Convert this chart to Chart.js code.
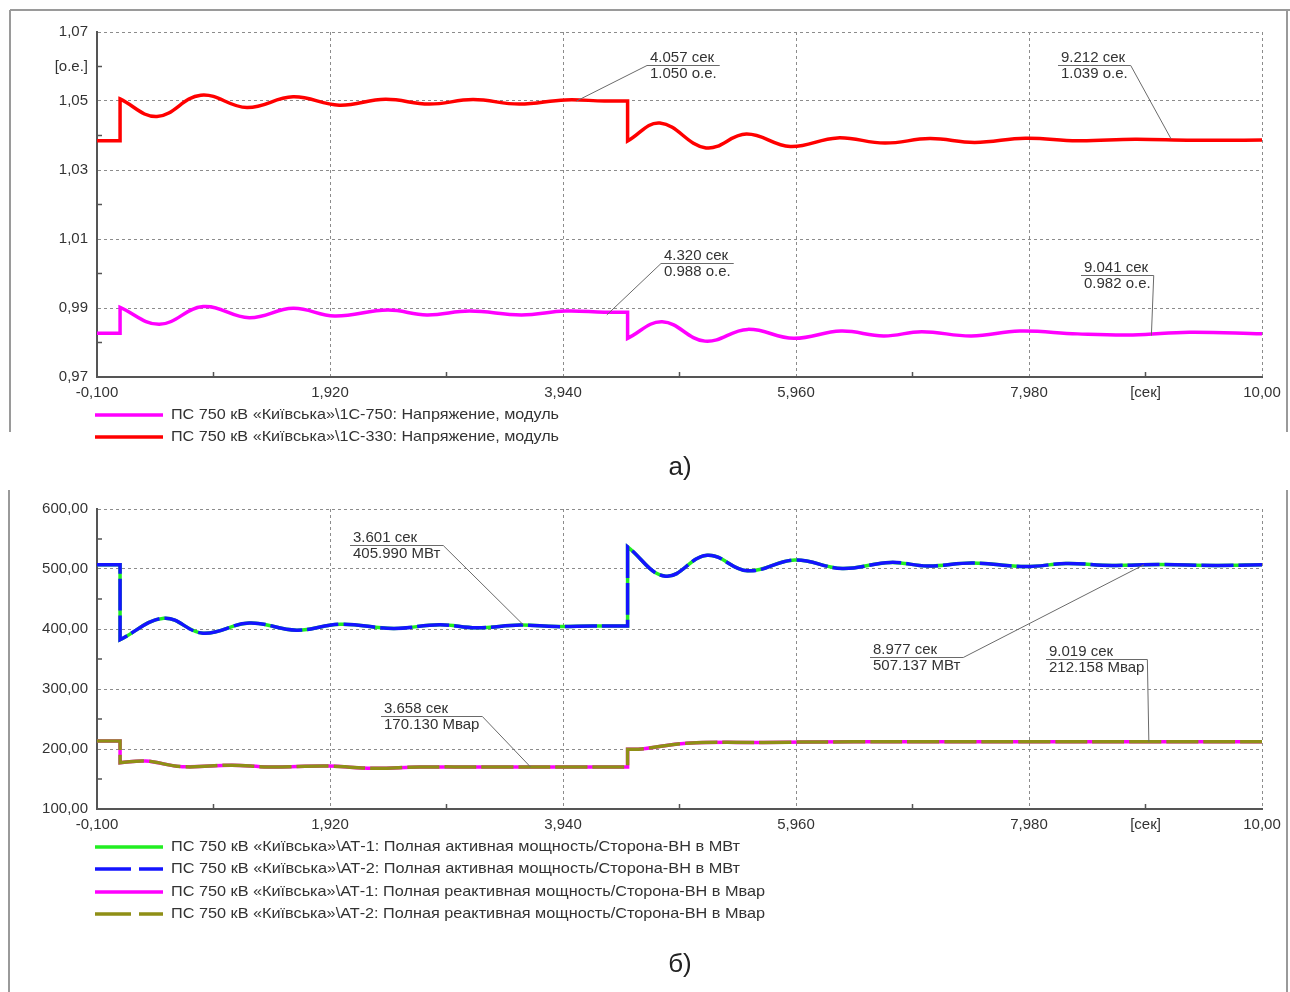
<!DOCTYPE html>
<html>
<head>
<meta charset="utf-8">
<title>ПС 750 кВ «Київська»</title>
<script src="https://cdn.jsdelivr.net/npm/chart.js@4.4.1/dist/chart.umd.min.js"></script>
<style>
  html, body { margin: 0; padding: 0; background: #fff; }
  body { width: 1290px; height: 992px; position: relative; overflow: hidden; }
  canvas { position: absolute; left: 0; }
  #chartA { top: 0; }
  #chartB { top: 490px; }
</style>
</head>
<body>
<canvas id="chartA" width="1290" height="490"></canvas>
<canvas id="chartB" width="1290" height="502"></canvas>
<script>
const FONT = '"Liberation Sans", Arial, sans-serif';
const TXT = '#333';
const AXIS = '#555';
const GRID = '#8c8c8c';

// общая ось времени
const xTicks = [-0.1, 0.91, 1.92, 2.93, 3.94, 4.95, 5.96, 6.97, 7.98, 8.99, 10.0];
const xTickLabels = ['-0,100', '', '1,920', '', '3,940', '', '5,960', '', '7,980', '[сек]', '10,00'];

// а) напряжения
const yTicksA = [0.97, 0.98, 0.99, 1.00, 1.01, 1.02, 1.03, 1.04, 1.05, 1.06, 1.07];
const yTickLabelsA = ['0,97', '', '0,99', '', '1,01', '', '1,03', '', '1,05', '[о.е.]', '1,07'];

const t750 = [-0.1, 0.1, 0.1, 0.44, 0.82, 1.22, 1.60, 1.96, 2.42, 2.76, 3.13, 3.58, 3.96, 4.30, 4.50, 4.50, 4.80, 5.17, 5.54, 5.94, 6.35, 6.72, 7.05, 7.48, 7.90, 8.40, 8.88, 9.37, 10.0];
const u750 = [0.9827, 0.9827, 0.9902, 0.9853, 0.9904, 0.9872, 0.9899, 0.9877, 0.9894, 0.9880, 0.9891, 0.9880, 0.9891, 0.9888, 0.9888, 0.9812, 0.9860, 0.9804, 0.9838, 0.9812, 0.9833, 0.9819, 0.9831, 0.9819, 0.9833, 0.9825, 0.9822, 0.9830, 0.9825];

const t330 = [-0.1, 0.1, 0.1, 0.42, 0.80, 1.20, 1.60, 2.00, 2.40, 2.78, 3.16, 3.56, 3.96, 4.30, 4.50, 4.50, 4.78, 5.18, 5.53, 5.91, 6.32, 6.73, 7.12, 7.51, 7.95, 8.40, 8.90, 9.40, 10.0];
const u330 = [1.0385, 1.0385, 1.0506, 1.0455, 1.0517, 1.0481, 1.0512, 1.0488, 1.0505, 1.0491, 1.0504, 1.0491, 1.0503, 1.0500, 1.0500, 1.0384, 1.0436, 1.0364, 1.0404, 1.0368, 1.0393, 1.0378, 1.0391, 1.0380, 1.0392, 1.0385, 1.0389, 1.0386, 1.0387];

// б) мощности
const yTicksB = [100, 150, 200, 250, 300, 350, 400, 450, 500, 550, 600];
const yTickLabelsB = ['100,00', '', '200,00', '', '300,00', '', '400,00', '', '500,00', '', '600,00'];

const tP = [-0.1, 0.1, 0.1, 0.48, 0.82, 1.22, 1.63, 2.01, 2.47, 2.87, 3.19, 3.57, 3.88, 4.20, 4.50, 4.50, 4.83, 5.19, 5.54, 5.95, 6.36, 6.78, 7.10, 7.49, 7.95, 8.30, 8.70, 9.10, 9.60, 10.0];
const pAT1 = [507, 507, 382, 418, 393, 410, 398, 408, 401, 407, 402, 406.5, 404, 405, 405, 537, 488, 523, 497, 515, 501, 511, 505, 510, 504, 509, 506, 507.5, 506, 507];
const pAT2 = [507, 507, 382, 418, 393, 410, 398, 408, 401, 407, 402, 406.5, 404, 405, 405, 537, 488, 523, 497, 515, 501, 511, 505, 510, 504, 509, 506, 507.5, 506, 507];

const tQ = [-0.1, 0.1, 0.1, 0.32, 0.64, 1.07, 1.39, 1.90, 2.29, 2.70, 3.30, 3.90, 4.50, 4.50, 4.62, 5.01, 5.68, 6.46, 7.20, 8.00, 9.00, 10.0];
const qAT1 = [213.5, 213.5, 177, 180, 170.5, 173, 170, 171.5, 168, 170, 170, 170, 170, 199.5, 200, 209.5, 211, 212, 212, 212, 212, 212];
const qAT2 = [213.5, 213.5, 177, 180, 170.5, 173, 170, 171.5, 168, 170, 170, 170, 170, 199.5, 200, 209.5, 211, 212, 212, 212, 212, 212];

// выноски с отсчётами
const notesA = [
    { t: 4.057, v: 1.050, text: ['4.057 сек', '1.050 о.е.'], bx: 647, by: 65, end: 'left' },
    { t: 9.212, v: 1.039, text: ['9.212 сек', '1.039 о.е.'], bx: 1058, by: 65, end: 'right' },
    { t: 4.320, v: 0.988, text: ['4.320 сек', '0.988 о.е.'], bx: 661, by: 263, end: 'left' },
    { t: 9.041, v: 0.982, text: ['9.041 сек', '0.982 о.е.'], bx: 1081, by: 275, end: 'right' }
];
const notesB = [
    { t: 3.601, v: 405.990, text: ['3.601 сек', '405.990 МВт'], bx: 350, by: 55, end: 'right' },
    { t: 8.977, v: 507.137, text: ['8.977 сек', '507.137 МВт'], bx: 870, by: 167, end: 'right' },
    { t: 9.019, v: 212.158, text: ['9.019 сек', '212.158 Мвар'], bx: 1046, by: 169, end: 'right' },
    { t: 3.658, v: 170.130, text: ['3.658 сек', '170.130 Мвар'], bx: 381, by: 226, end: 'right' }
];

const legendA = [
    { text: 'ПС 750 кВ «Київська»\\1С-750: Напряжение, модуль', color: '#ff00ff', dash: [], y: 415, w: 388 },
    { text: 'ПС 750 кВ «Київська»\\1С-330: Напряжение, модуль', color: '#ff0000', dash: [], y: 437, w: 388 }
];
const legendB = [
    { text: 'ПС 750 кВ «Київська»\\АТ-1: Полная активная мощность/Сторона-ВН в МВт', color: '#22ee22', dash: [], y: 357, w: 569 },
    { text: 'ПС 750 кВ «Київська»\\АТ-2: Полная активная мощность/Сторона-ВН в МВт', color: '#1414ff', dash: [36, 8], y: 379, w: 569 },
    { text: 'ПС 750 кВ «Київська»\\АТ-1: Полная реактивная мощность/Сторона-ВН в Мвар', color: '#ff00ff', dash: [], y: 402, w: 594 },
    { text: 'ПС 750 кВ «Київська»\\АТ-2: Полная реактивная мощность/Сторона-ВН в Мвар', color: '#8f8f16', dash: [36, 8], y: 424, w: 594 }
];

// скачки: дублируем точки, чтобы углы были острыми
function toPoints(ts, vs) {
    const pts = [];
    ts.forEach((t, i) => {
        pts.push({ x: t, y: vs[i] });
        if (ts[i - 1] === t || ts[i + 1] === t) pts.push({ x: t, y: vs[i] });
    });
    return pts;
}

function isMajor(labels, i) {
    return i > 0 && /\d/.test(labels[i]);
}

function xScale() {
    return {
        type: 'linear', min: -0.1, max: 10.0,
        afterBuildTicks: s => { s.ticks = xTicks.map(v => ({ value: v })); },
        afterFit: s => { s.height = 30; },
        ticks: {
            autoSkip: false, maxRotation: 0, padding: 7, color: TXT,
            font: { family: FONT, size: 15 },
            callback: (v, i) => xTickLabels[i]
        },
        grid: { drawTicks: false, lineWidth: 1, color: c => isMajor(xTickLabels, c.index) ? GRID : 'transparent' },
        border: { color: AXIS, width: 2, dash: [3, 3] }
    };
}

function yScale(min, max, vals, labels) {
    return {
        type: 'linear', min: min, max: max,
        afterBuildTicks: s => { s.ticks = vals.map(v => ({ value: v })); },
        afterFit: s => { s.width = 97; },
        ticks: {
            autoSkip: false, padding: 9, color: TXT,
            font: { family: FONT, size: 15 },
            callback: (v, i) => labels[i]
        },
        grid: { drawTicks: false, lineWidth: 1, color: c => isMajor(labels, c.index) ? GRID : 'transparent' },
        border: { color: AXIS, width: 2, dash: [3, 3] }
    };
}

function line(label, ts, vs, color, dash, order) {
    return {
        label: label, data: toPoints(ts, vs), borderColor: color, borderWidth: 3.5,
        borderDash: dash, pointRadius: 0, tension: 0.4, fill: false, order: order
    };
}

function fitText(ctx, text, x, y, w) {
    const m = ctx.measureText(text).width;
    ctx.save();
    ctx.translate(x, y);
    if (w) ctx.scale(w / m, 1);
    ctx.fillText(text, 0, 0);
    ctx.restore();
}

// рамка, легенда, выноски, мелкие засечки
const extras = {
    id: 'extras',
    afterDraw(chart, args, opts) {
        const ctx = chart.ctx;
        const xs = chart.scales.x, ys = chart.scales.y;
        const area = chart.chartArea;
        ctx.save();

        // рамка
        ctx.strokeStyle = '#9a9a9a';
        ctx.lineWidth = 2;
        ctx.beginPath();
        opts.frame.forEach(seg => { ctx.moveTo(seg[0], seg[1]); ctx.lineTo(seg[2], seg[3]); });
        ctx.stroke();

        // засечки внутрь
        ctx.strokeStyle = AXIS;
        ctx.lineWidth = 1.5;
        ctx.beginPath();
        xTicks.forEach((v, i) => {
            if (i > 0 && !/\d/.test(xTickLabels[i])) {
                const px = xs.getPixelForValue(v);
                ctx.moveTo(px, area.bottom); ctx.lineTo(px, area.bottom - 5);
            }
        });
        opts.yTicks.forEach((v, i) => {
            if (!/\d/.test(opts.yLabels[i])) {
                const py = ys.getPixelForValue(v);
                ctx.moveTo(area.left, py); ctx.lineTo(area.left + 5, py);
            }
        });
        ctx.stroke();

        // выноски
        ctx.font = '15px ' + FONT;
        ctx.textBaseline = 'middle';
        opts.notes.forEach(n => {
            const w = Math.max(...n.text.map(s => ctx.measureText(s).width)) + 6;
            const px = xs.getPixelForValue(n.t), py = ys.getPixelForValue(n.v);
            const sx = n.end === 'left' ? n.bx : n.bx + w;
            ctx.strokeStyle = '#6a6a6a';
            ctx.lineWidth = 1;
            ctx.beginPath();
            ctx.moveTo(n.bx, n.by + 0.5); ctx.lineTo(n.bx + w, n.by + 0.5);
            ctx.moveTo(sx, n.by + 0.5); ctx.lineTo(px, py);
            ctx.stroke();
            ctx.fillStyle = TXT;
            ctx.fillText(n.text[0], n.bx + 3, n.by - 7);
            ctx.fillText(n.text[1], n.bx + 3, n.by + 9);
        });

        // легенда
        opts.legend.forEach(it => {
            ctx.strokeStyle = it.color;
            ctx.lineWidth = 3.5;
            ctx.setLineDash(it.dash);
            ctx.beginPath();
            ctx.moveTo(95, it.y); ctx.lineTo(163, it.y);
            ctx.stroke();
            ctx.setLineDash([]);
            ctx.fillStyle = TXT;
            fitText(ctx, it.text, 171, it.y, it.w);
        });

        // подпись панели
        ctx.font = '26px ' + FONT;
        ctx.textAlign = 'center';
        ctx.fillStyle = '#222';
        ctx.fillText(opts.caption[0], opts.caption[1], opts.caption[2]);
        ctx.restore();
    }
};

Chart.register(extras);

const chartA = new Chart(document.getElementById('chartA'), {
    type: 'line',
    data: {
        datasets: [
            line('1С-750', t750, u750, '#ff00ff', [], 0),
            line('1С-330', t330, u330, '#ff0000', [], 1)
        ]
    },
    options: {
        responsive: false, animation: false, devicePixelRatio: 1,
        layout: { padding: { left: 0, right: 28, top: 32, bottom: 83 } },
        scales: { x: xScale(), y: yScale(0.97, 1.07, yTicksA, yTickLabelsA) },
        plugins: {
            legend: { display: false }, tooltip: { enabled: false },
            extras: {
                frame: [[10, 10, 1290, 10], [10, 10, 10, 432], [1287, 10, 1287, 432]],
                yTicks: yTicksA, yLabels: yTickLabelsA, notes: notesA, legend: legendA,
                caption: ['а)', 680, 468]
            }
        }
    }
});

const chartB = new Chart(document.getElementById('chartB'), {
    type: 'line',
    data: {
        datasets: [
            line('АТ-2 P', tP, pAT2, '#1414ff', [32, 5], 0),
            line('АТ-1 P', tP, pAT1, '#22ee22', [], 1),
            line('АТ-2 Q', tQ, qAT2, '#8f8f16', [32, 5], 2),
            line('АТ-1 Q', tQ, qAT1, '#ff00ff', [], 3)
        ]
    },
    options: {
        responsive: false, animation: false, devicePixelRatio: 1,
        layout: { padding: { left: 0, right: 28, top: 19, bottom: 153 } },
        scales: { x: xScale(), y: yScale(100, 600, yTicksB, yTickLabelsB) },
        plugins: {
            legend: { display: false }, tooltip: { enabled: false },
            extras: {
                frame: [[9, 0, 9, 502], [1287, 0, 1287, 502]],
                yTicks: yTicksB, yLabels: yTickLabelsB, notes: notesB, legend: legendB,
                caption: ['б)', 680, 475]
            }
        }
    }
});
</script>
</body>
</html>
